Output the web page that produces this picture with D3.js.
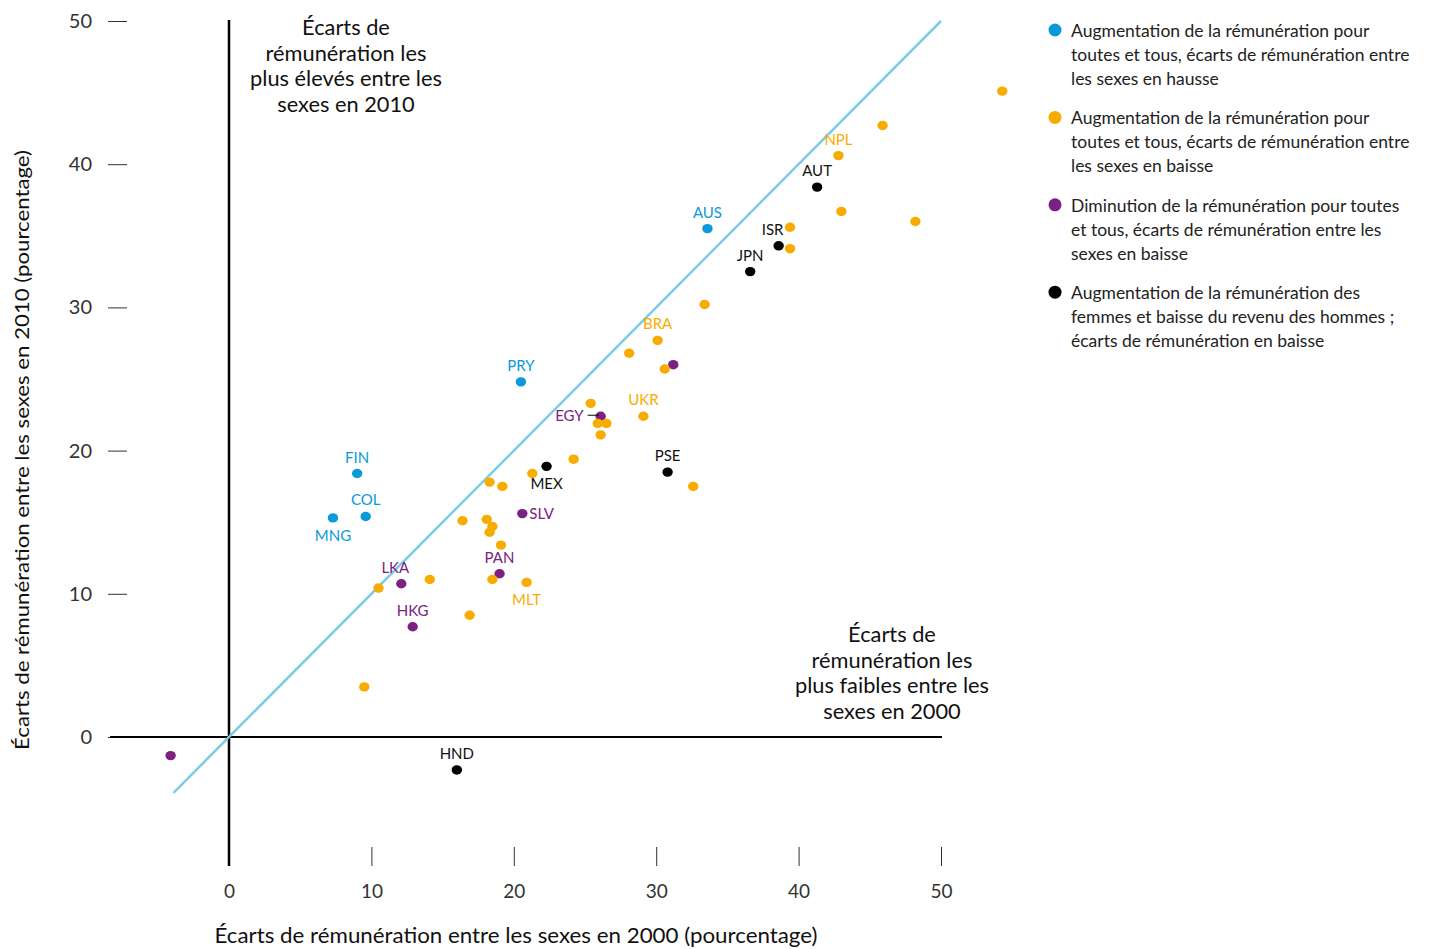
<!DOCTYPE html>
<html><head><meta charset="utf-8">
<script src="https://cdn.jsdelivr.net/npm/d3@7"></script>
<style>
body{margin:0;background:#fff;}
text{font-family:Lato,"Noto Sans",sans-serif;}
</style></head>
<body><svg id="c" width="1429" height="949"></svg>
<script>
const countries = ["AUS","PRY","FIN","COL","MNG",
  "AUT","ISR","JPN","PSE","MEX","HND",
  "EGY","","SLV","PAN","LKA","HKG","",
  "","","NPL","","","","","","BRA","","","","UKR",
  "","","","","","","","","","","","","","","","MLT","","",""];
const gap2000 = [33.6,20.5,9.0,9.6,7.3,
  41.3,38.6,36.6,30.8,22.3,16.0,
  26.1,31.2,20.6,19.0,12.1,12.9,-4.1,
  54.3,45.9,42.8,43.0,48.2,39.4,39.4,33.4,30.1,28.1,30.6,25.4,29.1,
  25.9,26.5,26.1,24.2,21.3,18.3,19.2,32.6,16.4,18.1,18.5,18.3,19.1,14.1,18.5,20.9,10.5,16.9,9.5];
const gap2010 = [35.5,24.8,18.4,15.4,15.3,
  38.4,34.3,32.5,18.5,18.9,-2.3,
  22.4,26.0,15.6,11.4,10.7,7.7,-1.3,
  45.1,42.7,40.6,36.7,36.0,35.6,34.1,30.2,27.7,26.8,25.7,23.3,22.4,
  21.9,21.9,21.1,19.4,18.4,17.8,17.5,17.5,15.1,15.2,14.7,14.3,13.4,11.0,11.0,10.8,10.4,8.5,3.5];
const group = ["blue","blue","blue","blue","blue",
  "black","black","black","black","black","black",
  "purple","purple","purple","purple","purple","purple","purple",
  "orange","orange","orange","orange","orange","orange","orange","orange","orange","orange","orange","orange","orange",
  "orange","orange","orange","orange","orange","orange","orange","orange","orange","orange","orange","orange","orange","orange","orange","orange","orange","orange","orange"];
// label placement: position relative to dot
const labelPos = {AUS:"above",PRY:"above",FIN:"above",COL:"above",MNG:"below",AUT:"above",ISR:"aboveLeft",JPN:"above",PSE:"above",MEX:"below",HND:"above",EGY:"leftLine",SLV:"right",PAN:"above",LKA:"aboveLeft",HKG:"above",NPL:"above",BRA:"above",UKR:"above",MLT:"below"};
const axisTicks = [0,10,20,30,40,50];
const groupColors = {blue:"#0a9ad9",orange:"#f8ac00",purple:"#7b2181",black:"#000000"};
const legendGroups = ["blue","orange","purple","black"];
const legendTexts = [
  ["Augmentation de la rémunération pour","toutes et tous, écarts de rémunération entre","les sexes en hausse"],
  ["Augmentation de la rémunération pour","toutes et tous, écarts de rémunération entre","les sexes en baisse"],
  ["Diminution de la rémunération pour toutes","et tous, écarts de rémunération entre les","sexes en baisse"],
  ["Augmentation de la rémunération des","femmes et baisse du revenu des hommes ;","écarts de rémunération en baisse"]];
const diagStart = -3.9, diagEnd = 50;
const noteTopLeft = ["Écarts de","rémunération les","plus élevés entre les","sexes en 2010"];
const noteBottomRight = ["Écarts de","rémunération les","plus faibles entre les","sexes en 2000"];
const xTitle = "Écarts de rémunération entre les sexes en 2000 (pourcentage)";
const yTitle = "Écarts de rémunération entre les sexes en 2010 (pourcentage)";

const svg = d3.select("#c");
const x = d3.scaleLinear().domain([0,50]).range([229,941]);
const y = d3.scaleLinear().domain([0,50]).range([737,21]);

// y axis ticks
const yAx = svg.append("g").attr("transform","translate(127,0)")
  .call(d3.axisLeft(y).tickValues(axisTicks).tickSize(19).tickPadding(16));
yAx.select(".domain").remove();
yAx.selectAll("line").attr("stroke","#333");
yAx.selectAll("text").attr("font-size",20).attr("fill","#333").style("font-family","Lato");

// x axis ticks
const xAx = svg.append("g").attr("transform","translate(0,847)")
  .call(d3.axisBottom(x).tickValues(axisTicks).tickSize(19).tickPadding(19));
xAx.select(".domain").remove();
xAx.selectAll("line").attr("stroke","#333");
xAx.selectAll("text").attr("font-size",19).attr("fill","#333").style("font-family","Lato");

// zero lines
svg.append("line").attr("x1",110).attr("x2",942).attr("y1",y(0)).attr("y2",y(0)).attr("stroke","#000").attr("stroke-width",2);
svg.append("line").attr("x1",x(0)).attr("x2",x(0)).attr("y1",20).attr("y2",866).attr("stroke","#000").attr("stroke-width",2.5);

// diagonal
svg.append("line").attr("x1",x(diagStart)).attr("y1",y(diagStart)).attr("x2",x(diagEnd)).attr("y2",y(diagEnd))
  .attr("stroke","#7ccbe8").attr("stroke-width",2.5);

// notes
svg.append("text").attr("x",346).attr("y",35).attr("text-anchor","middle").attr("font-size",21.8).attr("fill","#111")
  .selectAll("tspan").data(noteTopLeft).join("tspan").attr("x",346).attr("dy",(d,i)=>i?25.7:0).text(d=>d);
svg.append("text").attr("x",892).attr("y",642).attr("text-anchor","middle").attr("font-size",21.8).attr("fill","#111")
  .selectAll("tspan").data(noteBottomRight).join("tspan").attr("x",892).attr("dy",(d,i)=>i?25.7:0).text(d=>d);

// points
const pts = countries.map((c,i)=>({c,gx:gap2000[i],gy:gap2010[i],g:group[i]}));
svg.append("g").selectAll("ellipse").data(pts).join("ellipse")
  .attr("cx",d=>x(d.gx)).attr("cy",d=>y(d.gy)).attr("rx",5.2).attr("ry",4.7)
  .attr("fill",d=>groupColors[d.g]);

// labels
const lab = svg.append("g");
pts.filter(d=>d.c).forEach(d=>{
  const px=x(d.gx), py=y(d.gy), pos=labelPos[d.c];
  let tx=px, ty=py-11, anchor="middle";
  if(pos==="below"){ty=py+23;}
  if(pos==="aboveLeft"){tx=px-6;}
  if(pos==="right"){tx=px+7;ty=py+5;anchor="start";}
  if(pos==="leftLine"){tx=px-17;ty=py+5;anchor="end";
    lab.append("line").attr("x1",px-13).attr("x2",px-2).attr("y1",py-1).attr("y2",py-1).attr("stroke","#000").attr("stroke-width",1);}
  lab.append("text").attr("x",tx).attr("y",ty).attr("text-anchor",anchor).attr("font-size",15)
    .attr("fill",d.g==="black"?"#111":groupColors[d.g]).text(d.c);
});

// axis titles
svg.append("text").attr("x",516).attr("y",943).attr("text-anchor","middle").attr("font-size",21)
  .attr("fill","#111").attr("textLength",603).attr("lengthAdjust","spacingAndGlyphs").text(xTitle);
svg.append("text").attr("transform","translate(29,450) rotate(-90)").attr("text-anchor","middle").attr("font-size",20)
  .attr("fill","#111").attr("textLength",600).attr("lengthAdjust","spacingAndGlyphs").text(yTitle);

// legend
const lg = svg.append("g");
legendGroups.forEach((g,i)=>{
  const gy = 30 + i*87.4;
  lg.append("circle").attr("cx",1055).attr("cy",gy).attr("r",6.5).attr("fill",groupColors[g]);
  lg.append("text").attr("font-size",17.5).attr("fill","#222")
    .selectAll("tspan").data(legendTexts[i]).join("tspan").attr("x",1071).attr("y",(d,j)=>gy+7+j*24).text(d=>d);
});
</script></body></html>
